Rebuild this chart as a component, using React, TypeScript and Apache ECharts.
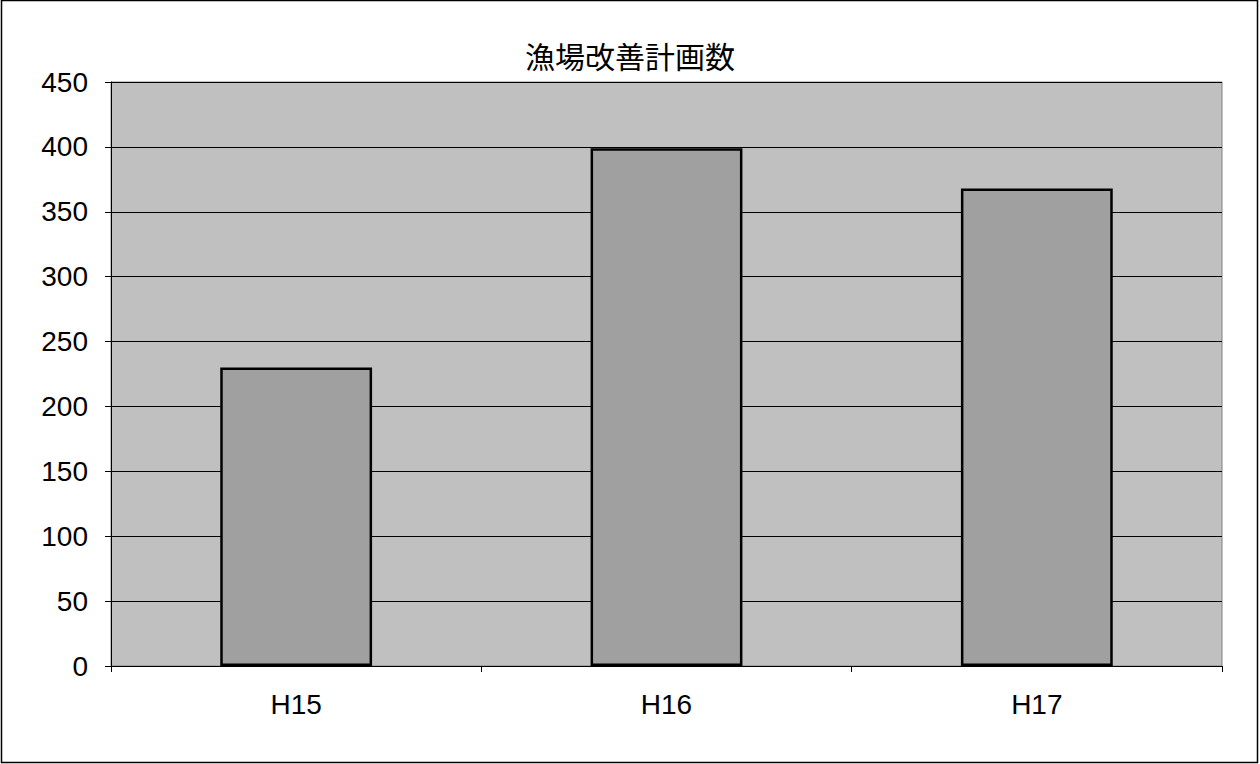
import React, { useEffect, useRef } from "react";
import * as echarts from "echarts";

const categories = ["H15", "H16", "H17"];
const values = [230, 399, 368];
const titleText = "漁場改善計画数";

export default function App() {
  const ref = useRef<HTMLDivElement>(null);
  useEffect(() => {
    const chart = echarts.init(ref.current!, null, { renderer: "svg" });
    chart.setOption({
      animation: false,
      backgroundColor: "#ffffff",
      textStyle: { fontFamily: "Liberation Sans, Arial, sans-serif" },
      title: {
        text: titleText,
        left: "center",
        top: 35,
        textStyle: {
          fontFamily: "Noto Sans CJK JP, sans-serif",
          fontSize: 30,
          fontWeight: "normal",
          color: "#000",
        },
      },
      graphic: [
        {
          type: "rect",
          shape: { x: 1.5, y: 0.5, width: 1256, height: 762 },
          style: { fill: "none", stroke: "#000", lineWidth: 1.5 },
          silent: true,
          z: 100,
        },
      ],
      grid: {
        left: 111,
        top: 82,
        width: 1111,
        height: 584,
        show: true,
        backgroundColor: "#c0c0c0",
        borderColor: "#808080",
        borderWidth: 1,
      },
      xAxis: {
        type: "category",
        data: categories,
        boundaryGap: true,
        axisLine: { lineStyle: { color: "#000", width: 1 } },
        axisTick: { show: true, alignWithLabel: false, length: 6, lineStyle: { color: "#000" } },
        axisLabel: { fontSize: 28, color: "#000", margin: 24 },
      },
      yAxis: {
        type: "value",
        min: 0,
        max: 450,
        interval: 50,
        axisLine: { show: true, lineStyle: { color: "#000", width: 1 } },
        axisTick: { show: true, length: 6, lineStyle: { color: "#000" } },
        axisLabel: { fontSize: 28, color: "#000", margin: 23 },
        splitLine: { show: true, lineStyle: { color: "#000", width: 1 } },
      },
      series: [
        {
          type: "bar",
          data: values,
          barWidth: "41%",
          itemStyle: { color: "#a0a0a0", borderColor: "#000", borderWidth: 2.5 },
        },
      ],
    });
    return () => chart.dispose();
  }, []);
  return (
    <div
      ref={ref}
      style={{ position: "absolute", left: 0, top: 0, width: 1260, height: 764 }}
    />
  );
}
